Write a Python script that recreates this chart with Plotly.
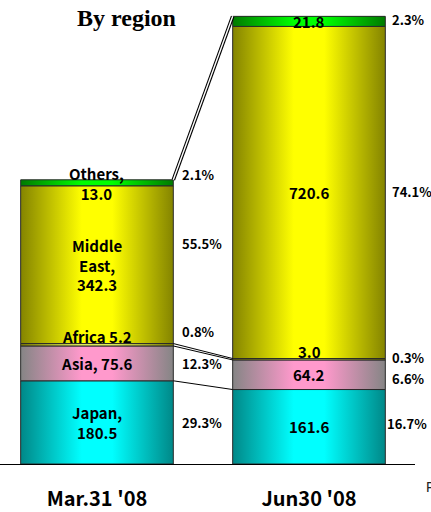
import plotly.graph_objects as go
import numpy as np

# ---------------- data ----------------
periods = ["Mar.31 '08", "Jun30 '08"]
regions = ["Japan", "Asia", "Africa", "Middle East", "Others"]
japan = [180.5, 161.6]
asia = [75.6, 64.2]
africa = [5.2, 3.0]
middle_east = [342.3, 720.6]
others = [13.0, 21.8]

share_japan = ["29.3%", "16.7%"]
share_asia = ["12.3%", "6.6%"]
share_africa = ["0.8%", "0.3%"]
share_middle_east = ["55.5%", "74.1%"]
share_others = ["2.1%", "2.3%"]

label_japan = ["Japan,<br>180.5", "161.6"]
label_asia = ["Asia, 75.6", "64.2"]
label_africa = ["Africa 5.2", "3.0"]
label_middle_east = ["Middle<br>East,<br>342.3", "720.6"]
label_others = ["Others,<br>13.0", "21.8"]

# ---------------- styles ----------------
W = 0.72
FONT = "Noto Sans CJK JP"
styles = {
    "Japan": ("#008888", "#00FFFF"),
    "Asia": ("#858585", "#FF99CC"),
    "Africa": ("#808000", "#F0FF60"),
    "Middle East": ("#848400", "#FFFF00"),
    "Others": ("#007A00", "#00FF00"),
}
# nudges of the share labels (pixels), per region, per period
share_yshift = {
    "Japan": [0, 3], "Asia": [0, -4], "Africa": [13, 2],
    "Middle East": [21, 1], "Others": [8, 2],
}
share_xshift = {"Japan": [7, 0]}
label_yshift = {"Africa": [8, 8], "Others": [-1, 0]}

series = [
    ("Japan", japan, share_japan, label_japan),
    ("Asia", asia, share_asia, label_asia),
    ("Africa", africa, share_africa, label_africa),
    ("Middle East", middle_east, share_middle_east, label_middle_east),
    ("Others", others, share_others, label_others),
]

fig = go.Figure()
xs = np.arange(len(periods))

# plain stacked bars (data carriers, drawn beneath the shaded fills)
for name, vals, _, _ in series:
    fig.add_trace(go.Bar(x=xs, y=vals, width=W, name=name,
                         marker=dict(color=styles[name][1], line=dict(width=0)),
                         showlegend=False, hoverinfo="skip"))

# cylinder-shaded segments built from the same data
base = np.zeros(len(periods))
bounds = [base.copy()]
annotations = []
for name, vals, shares, labels in series:
    edge, center = styles[name]
    v = np.array(vals, dtype=float)
    for i in range(len(periods)):
        x0, x1 = xs[i] - W / 2, xs[i] + W / 2
        y0, y1 = base[i], base[i] + v[i]
        fig.add_trace(go.Scatter(
            x=[x0, x1, x1, x0, x0], y=[y0, y0, y1, y1, y0],
            mode="lines", fill="toself",
            fillgradient=dict(type="horizontal",
                              colorscale=[[0, edge], [0.4, center], [0.6, center], [1, edge]]),
            line=dict(color="#2a2a2a", width=1),
            showlegend=False, hoverinfo="skip"))
        mid = (y0 + y1) / 2
        annotations.append(dict(
            x=xs[i], y=mid, xref="x", yref="y", text=labels[i], showarrow=False,
            yshift=label_yshift.get(name, [0, 0])[i],
            font=dict(family=FONT, size=15, color="black", weight="bold"),
            xanchor="center", yanchor="middle"))
        annotations.append(dict(
            x=xs[i] + W / 2, y=mid, xref="x", yref="y", text=shares[i], showarrow=False,
            xshift=share_xshift.get(name, [7, 5])[i],
            yshift=share_yshift[name][i],
            font=dict(family=FONT, size=13, color="black", weight="bold"),
            xanchor="left", yanchor="middle"))
    base = base + v
    bounds.append(base.copy())

# series lines between the bars
def series_line(k, double=False):
    yy = [bounds[k][0], bounds[k][1]]
    xx = [xs[0] + W / 2, xs[1] - W / 2]
    if double:
        fig.add_trace(go.Scatter(x=xx, y=yy, mode="lines",
                                 line=dict(color="black", width=3.6),
                                 showlegend=False, hoverinfo="skip"))
        fig.add_trace(go.Scatter(x=xx, y=yy, mode="lines",
                                 line=dict(color="white", width=1.4),
                                 showlegend=False, hoverinfo="skip"))
    else:
        fig.add_trace(go.Scatter(x=xx, y=yy, mode="lines",
                                 line=dict(color="black", width=1),
                                 showlegend=False, hoverinfo="skip"))

series_line(1)
series_line(2)
series_line(3)
series_line(5, double=True)

annotations.append(dict(
    x=126 / 415, y=(469 - 18) / 459, xref="paper", yref="paper",
    text="By region", showarrow=False, xanchor="center", yanchor="middle",
    font=dict(family="Liberation Serif", size=24, color="black", weight="bold")))
annotations.append(dict(
    x=424 / 415, y=(469 - 492) / 459, xref="paper", yref="paper",
    text="F", showarrow=False, xanchor="left", yanchor="middle",
    font=dict(family="Liberation Sans", size=14, color="#222")))

fig.update_layout(
    width=431, height=512,
    margin=dict(l=0, r=16, t=10, b=43),
    barmode="stack",
    paper_bgcolor="white", plot_bgcolor="white",
    annotations=annotations,
    xaxis=dict(range=[-0.4575, 1.5], tickvals=list(xs), ticktext=periods,
               showline=True, linecolor="black", linewidth=1,
               showgrid=False, zeroline=False, ticks="",
               ticklabelstandoff=17,
               tickfont=dict(family=FONT, size=20, color="black", weight="bold")),
    yaxis=dict(range=[0, 985], visible=False, showgrid=False, zeroline=False),
)

fig.write_html("out.html", config={"displayModeBar": False},
               post_script="document.body.style.margin='0';document.body.style.overflow='hidden';")
